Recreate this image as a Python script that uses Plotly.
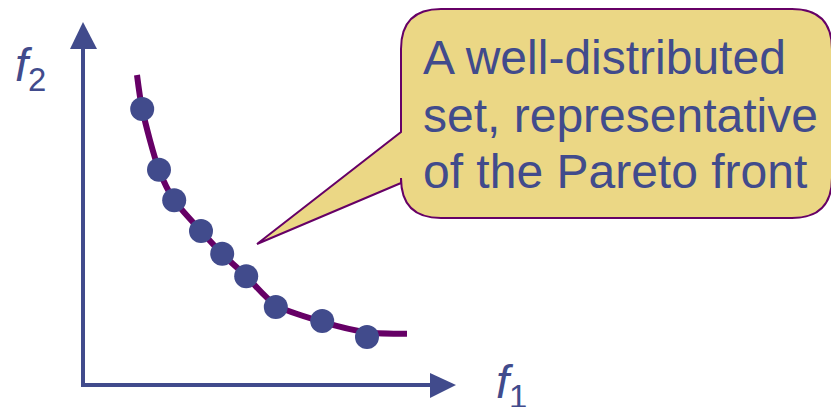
import plotly.graph_objects as go

# Sampled solutions on the front (objective values)
f1_points = [1.48, 1.9, 2.28, 2.95, 3.48, 4.08, 4.82, 5.98, 7.1]
f2_points = [6.9, 5.38, 4.62, 3.85, 3.28, 2.72, 1.95, 1.6, 1.2]

# Trace of the Pareto front itself
f1_front = [1.35, 1.48, 1.9, 2.28, 2.95, 3.48, 4.08, 4.82, 5.98, 7.1, 8.1]
f2_front = [7.75, 6.9, 5.38, 4.62, 3.85, 3.28, 2.72, 2.0, 1.58, 1.32, 1.28]

callout_lines = ["A well-distributed", "set, representative", "of the Pareto front"]

W, H = 831, 407
SCALE = 40.0          # pixels per objective unit
X0, Y0 = 83, 385      # pixel position of the origin

BLUE = "#414B8C"
PURPLE = "#660066"
FILL = "#EBD785"
FONT = "Liberation Sans, Arial, sans-serif"


def px(x, y):
    """Pixel position -> axis units."""
    return (x - X0) / SCALE, (Y0 - y) / SCALE


def path(points_cmds):
    out = []
    for cmd, pts in points_cmds:
        s = cmd
        for (x, y) in pts:
            dx, dy = px(x, y)
            s += f" {dx:.4f},{dy:.4f}"
        out.append(s)
    return " ".join(out) + " Z"


fig = go.Figure()

fig.add_trace(go.Scatter(
    x=f1_front, y=f2_front, mode="lines",
    line=dict(color=PURPLE, width=6, shape="spline", smoothing=0.8),
    hoverinfo="skip", showlegend=False,
))
fig.add_trace(go.Scatter(
    x=f1_points, y=f2_points, mode="markers",
    marker=dict(color=BLUE, size=24, line=dict(width=0)),
    showlegend=False,
))

shapes = []
# axes with arrowheads
shapes.append(dict(type="line", xref="x", yref="y",
                   x0=0, y0=px(0, 387)[1], x1=0, y1=px(0, 48)[1],
                   line=dict(color=BLUE, width=4)))
shapes.append(dict(type="line", xref="x", yref="y",
                   x0=px(81, 0)[0], y0=0, x1=px(432, 0)[0], y1=0,
                   line=dict(color=BLUE, width=4)))
shapes.append(dict(type="path", xref="x", yref="y",
                   path=path([("M", [(70, 49)]), ("L", [(97, 49)]), ("L", [(83, 22)])]),
                   fillcolor=BLUE, line=dict(width=0)))
shapes.append(dict(type="path", xref="x", yref="y",
                   path=path([("M", [(430, 373)]), ("L", [(430, 398)]), ("L", [(456, 385)])]),
                   fillcolor=BLUE, line=dict(width=0)))

# speech-bubble callout
L, R, T, B, r = 401, 832, 9, 218, 40
bubble = path([
    ("M", [(L + r, T)]),
    ("L", [(R - r, T)]),
    ("Q", [(R, T), (R, T + r)]),
    ("L", [(R, B - r)]),
    ("Q", [(R, B), (R - r, B)]),
    ("L", [(L + r, B)]),
    ("Q", [(L, B), (L, B - r)]),
    ("L", [(L, 183)]),
    ("L", [(257, 244)]),
    ("L", [(L, 132)]),
    ("L", [(L, T + r)]),
    ("Q", [(L, T), (L + r, T)]),
])
shapes.append(dict(type="path", xref="x", yref="y", path=bubble,
                   fillcolor=FILL, line=dict(color=PURPLE, width=2), layer="below"))

annotations = []
for line, cy in zip(callout_lines, [57, 115, 172]):
    annotations.append(dict(
        text=line, xref="paper", yref="paper",
        x=421 / W, y=1 - cy / H, xanchor="left", yanchor="middle",
        showarrow=False, align="left",
        font=dict(family=FONT, size=48, color=BLUE),
    ))

annotations.append(dict(
    text="<i>f</i><sub>2</sub>", xref="paper", yref="paper",
    x=13 / W, y=1 - 68 / H, xanchor="left", yanchor="middle", showarrow=False,
    font=dict(family=FONT, size=47, color=BLUE),
))
annotations.append(dict(
    text="<i>f</i><sub>1</sub>", xref="paper", yref="paper",
    x=494 / W, y=1 - 385 / H, xanchor="left", yanchor="middle", showarrow=False,
    font=dict(family=FONT, size=47, color=BLUE),
))

fig.update_layout(
    width=W, height=H, autosize=False,
    margin=dict(l=0, r=0, t=0, b=0),
    paper_bgcolor="white", plot_bgcolor="white",
    xaxis=dict(range=[-X0 / SCALE, (W - X0) / SCALE], visible=False, fixedrange=True),
    yaxis=dict(range=[(Y0 - H) / SCALE, Y0 / SCALE], visible=False, fixedrange=True),
    shapes=shapes, annotations=annotations,
    showlegend=False,
)

fig.write_html("out.html")
